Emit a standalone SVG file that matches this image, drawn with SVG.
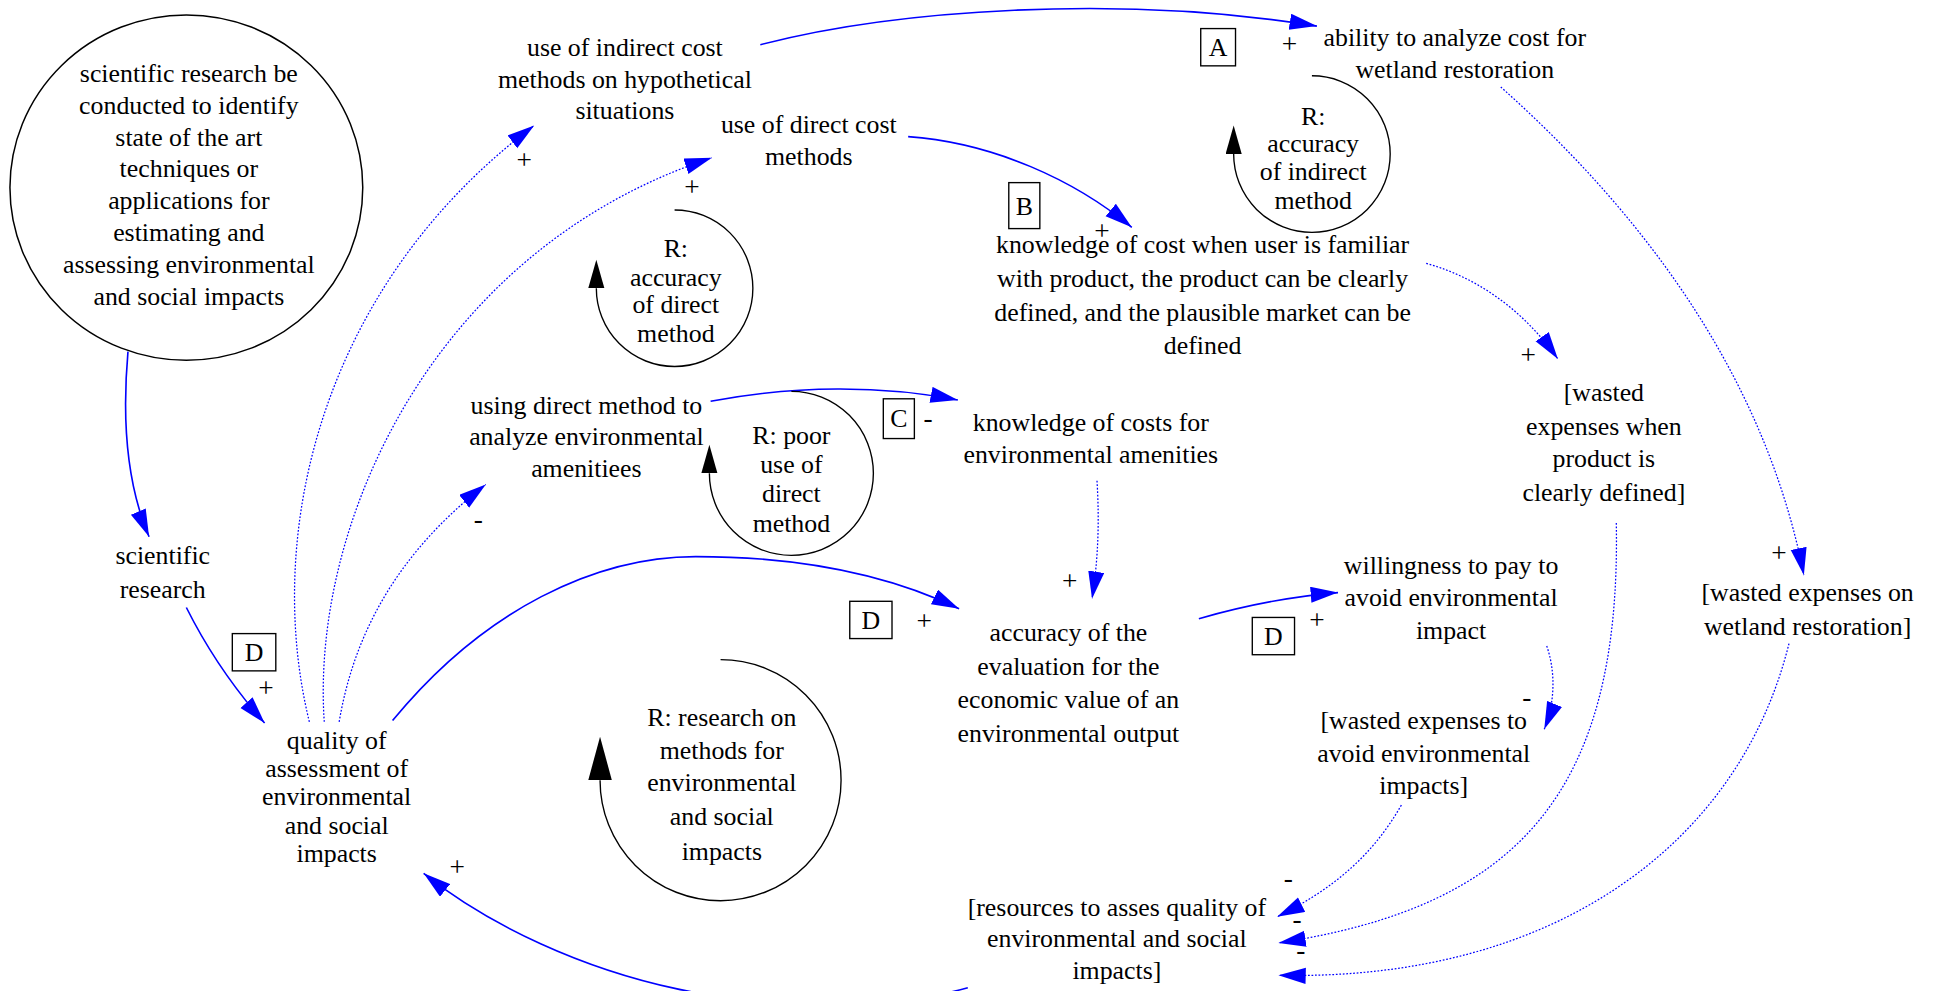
<svg xmlns="http://www.w3.org/2000/svg" width="1948" height="991" viewBox="0 0 1948 991">
<style>
.t{font-family:"Liberation Serif","Times New Roman",serif;font-size:20.8px;text-anchor:middle;fill:#000}
.s{font-family:"Liberation Serif","Times New Roman",serif;font-size:22px;text-anchor:middle;fill:#000}
.c{fill:none;stroke:#0000ff;stroke-width:1.3}
.d{fill:none;stroke:#0000ff;stroke-width:1;stroke-dasharray:1.4 1.4}
.lp{fill:none;stroke:#000;stroke-width:1.1}
.bx{fill:none;stroke:#000;stroke-width:1.1}
.nd{fill:none;stroke:#000;stroke-width:1.2}
</style>
<defs>
<marker id="ab" markerUnits="userSpaceOnUse" markerWidth="23" markerHeight="14" refX="22" refY="6.5" orient="auto"><path d="M0,0 L22,6.5 L0,13 z" fill="#0000ff"/></marker>
<marker id="ak" markerUnits="userSpaceOnUse" markerWidth="24" markerHeight="14" refX="0" refY="6.5" orient="auto"><path d="M0,0 L23,6.5 L0,13 z" fill="#000"/></marker>
<marker id="akl" markerUnits="userSpaceOnUse" markerWidth="37" markerHeight="20" refX="0" refY="9.5" orient="auto"><path d="M0,0 L35,9.5 L0,19 z" fill="#000"/></marker>
</defs>
<rect width="1948" height="991" fill="#fff"/>
<g transform="scale(1.24235)">
<g id="connectors">
<path class="c" marker-end="url(#ab)" d="M612,36 C720,8 900,-5 1060,21"/>
<path class="c" marker-end="url(#ab)" d="M731,110 C800,115 865,145 911,183"/>
<path class="c" marker-end="url(#ab)" d="M572,323 C640,310 710,310 771,322"/>
<path class="c" marker-end="url(#ab)" d="M316,580 C390,490 480,448 560,448 C650,448 720,465 772,490"/>
<path class="c" marker-end="url(#ab)" d="M965,498 C1000,488 1040,480 1077,477"/>
<path class="c" marker-end="url(#ab)" d="M103,283 C98,340 102,390 120,432"/>
<path class="c" marker-end="url(#ab)" d="M150,489 C168,525 190,556 213,582"/>
<path class="c" marker-end="url(#ab)" d="M779,795 C720,812 620,812 545,796 C470,780 395,746 341,703"/>
<path class="d" marker-end="url(#ab)" d="M249,581 C212,430 258,230 430,101"/>
<path class="d" marker-end="url(#ab)" d="M261,581 C250,420 350,200 573,127"/>
<path class="d" marker-end="url(#ab)" d="M273,581 C285,510 320,445 391,390"/>
<path class="d" marker-end="url(#ab)" d="M1148,212 C1195,225 1230,255 1254,289"/>
<path class="d" marker-end="url(#ab)" d="M1208,70 C1320,170 1420,300 1452,463"/>
<path class="d" marker-end="url(#ab)" d="M883,387 C885,420 884,450 879,482"/>
<path class="d" marker-end="url(#ab)" d="M1245,520 C1252,540 1252,565 1243,587"/>
<path class="d" marker-end="url(#ab)" d="M1128,648 C1104,690 1072,716 1028,738"/>
<path class="d" marker-end="url(#ab)" d="M1301,421 C1305,640 1220,730 1029,759"/>
<path class="d" marker-end="url(#ab)" d="M1440,518 C1400,680 1250,790 1029,785"/>
</g>
<g id="signs">
<text class="s" x="1038" y="43">+</text>
<text class="s" x="422" y="136">+</text>
<text class="s" x="557" y="158">+</text>
<text class="s" x="887" y="193">+</text>
<text class="s" x="747" y="344">-</text>
<text class="s" x="1230" y="293">+</text>
<text class="s" x="1432" y="452">+</text>
<text class="s" x="385" y="425">-</text>
<text class="s" x="861" y="475">+</text>
<text class="s" x="744" y="507">+</text>
<text class="s" x="1060" y="506">+</text>
<text class="s" x="214" y="561">+</text>
<text class="s" x="368" y="705">+</text>
<text class="s" x="1229" y="568">-</text>
<text class="s" x="1037" y="714">-</text>
<text class="s" x="1044" y="747">-</text>
<text class="s" x="1047" y="772">-</text>
</g>
<g id="box_A"><rect class="bx" x="966.5" y="23" width="28" height="30"/><text class="t" x="980.5" y="45">A</text></g>
<g id="box_B"><rect class="bx" x="812" y="147" width="25" height="37"/><text class="t" x="824.5" y="173">B</text></g>
<g id="box_C"><rect class="bx" x="711" y="321" width="25" height="32"/><text class="t" x="723.5" y="344">C</text></g>
<g id="box_D1"><rect class="bx" x="187" y="510" width="35" height="30"/><text class="t" x="204.5" y="532">D</text></g>
<g id="box_D2"><rect class="bx" x="684" y="484" width="34" height="30"/><text class="t" x="701" y="506">D</text></g>
<g id="box_D3"><rect class="bx" x="1008" y="497" width="34" height="30"/><text class="t" x="1025" y="519">D</text></g>
<g id="loop_direct">
<path class="lp" marker-end="url(#ak)" d="M543,169 A63,63 0 1 1 480,232"/>
<text class="t"><tspan x="544" y="207">R:</tspan><tspan x="544" y="230">accuracy</tspan><tspan x="544" y="252">of direct</tspan><tspan x="544" y="275">method</tspan></text>
</g>
<g id="loop_indirect">
<path class="lp" marker-end="url(#ak)" d="M1056,61 A63,63 0 1 1 993,124"/>
<text class="t"><tspan x="1057" y="101">R:</tspan><tspan x="1057" y="122">accuracy</tspan><tspan x="1057" y="145">of indirect</tspan><tspan x="1057" y="168">method</tspan></text>
</g>
<g id="loop_poor">
<path class="lp" marker-end="url(#ak)" d="M637,315 A66,66 0 1 1 571,381"/>
<text class="t"><tspan x="637" y="357">R: poor</tspan><tspan x="637" y="381">use of</tspan><tspan x="637" y="404">direct</tspan><tspan x="637" y="428">method</tspan></text>
</g>
<g id="loop_research">
<path class="lp" marker-end="url(#akl)" d="M580,531 A97,97 0 1 1 483,628"/>
<text class="t"><tspan x="581" y="584">R: research on</tspan><tspan x="581" y="611">methods for</tspan><tspan x="581" y="637">environmental</tspan><tspan x="581" y="664">and social</tspan><tspan x="581" y="692">impacts</tspan></text>
</g>
<g id="n_research_circle">
<ellipse class="nd" cx="150" cy="151" rx="142" ry="139"/>
<text class="t"><tspan x="152" y="66">scientific research be</tspan><tspan x="152" y="91.6">conducted to identify</tspan><tspan x="152" y="117.2">state of the art</tspan><tspan x="152" y="142.8">techniques or</tspan><tspan x="152" y="168.4">applications for</tspan><tspan x="152" y="194">estimating and</tspan><tspan x="152" y="219.6">assessing environmental</tspan><tspan x="152" y="245.2">and social impacts</tspan></text>
</g>
<g id="n_indirect"><text class="t"><tspan x="503" y="45">use of indirect cost</tspan><tspan x="503" y="71">methods on hypothetical</tspan><tspan x="503" y="96">situations</tspan></text></g>
<g id="n_direct"><text class="t"><tspan x="651" y="107">use of direct cost</tspan><tspan x="651" y="133">methods</tspan></text></g>
<g id="n_ability"><text class="t"><tspan x="1171" y="37">ability to analyze cost for</tspan><tspan x="1171" y="63">wetland restoration</tspan></text></g>
<g id="n_knowcost"><text class="t"><tspan x="968" y="204">knowledge of cost when user is familiar</tspan><tspan x="968" y="231">with product, the product can be clearly</tspan><tspan x="968" y="258">defined, and the plausible market can be</tspan><tspan x="968" y="285">defined</tspan></text></g>
<g id="n_using"><text class="t"><tspan x="472" y="333">using direct method to</tspan><tspan x="472" y="358">analyze environmental</tspan><tspan x="472" y="384">amenitiees</tspan></text></g>
<g id="n_knowamen"><text class="t"><tspan x="878" y="347">knowledge of costs for</tspan><tspan x="878" y="373">environmental amenities</tspan></text></g>
<g id="n_wasted_when"><text class="t"><tspan x="1291" y="323">[wasted</tspan><tspan x="1291" y="350">expenses when</tspan><tspan x="1291" y="376">product is</tspan><tspan x="1291" y="403">clearly defined]</tspan></text></g>
<g id="n_sci"><text class="t"><tspan x="131" y="454">scientific</tspan><tspan x="131" y="481">research</tspan></text></g>
<g id="n_accuracy"><text class="t"><tspan x="860" y="516">accuracy of the</tspan><tspan x="860" y="543">evaluation for the</tspan><tspan x="860" y="570">economic value of an</tspan><tspan x="860" y="597">environmental output</tspan></text></g>
<g id="n_willing"><text class="t"><tspan x="1168" y="462">willingness to pay to</tspan><tspan x="1168" y="488">avoid environmental</tspan><tspan x="1168" y="514">impact</tspan></text></g>
<g id="n_wetland"><text class="t"><tspan x="1455" y="484">[wasted expenses on</tspan><tspan x="1455" y="511">wetland restoration]</tspan></text></g>
<g id="n_quality"><text class="t"><tspan x="271" y="603">quality of</tspan><tspan x="271" y="625.5">assessment of</tspan><tspan x="271" y="648.3">environmental</tspan><tspan x="271" y="671">and social</tspan><tspan x="271" y="694">impacts</tspan></text></g>
<g id="n_wasted_to"><text class="t"><tspan x="1146" y="587">[wasted expenses to</tspan><tspan x="1146" y="613">avoid environmental</tspan><tspan x="1146" y="639">impacts]</tspan></text></g>
<g id="n_resources"><text class="t"><tspan x="899" y="737">[resources to asses quality of</tspan><tspan x="899" y="762">environmental and social</tspan><tspan x="899" y="788">impacts]</tspan></text></g>
</g>
</svg>
